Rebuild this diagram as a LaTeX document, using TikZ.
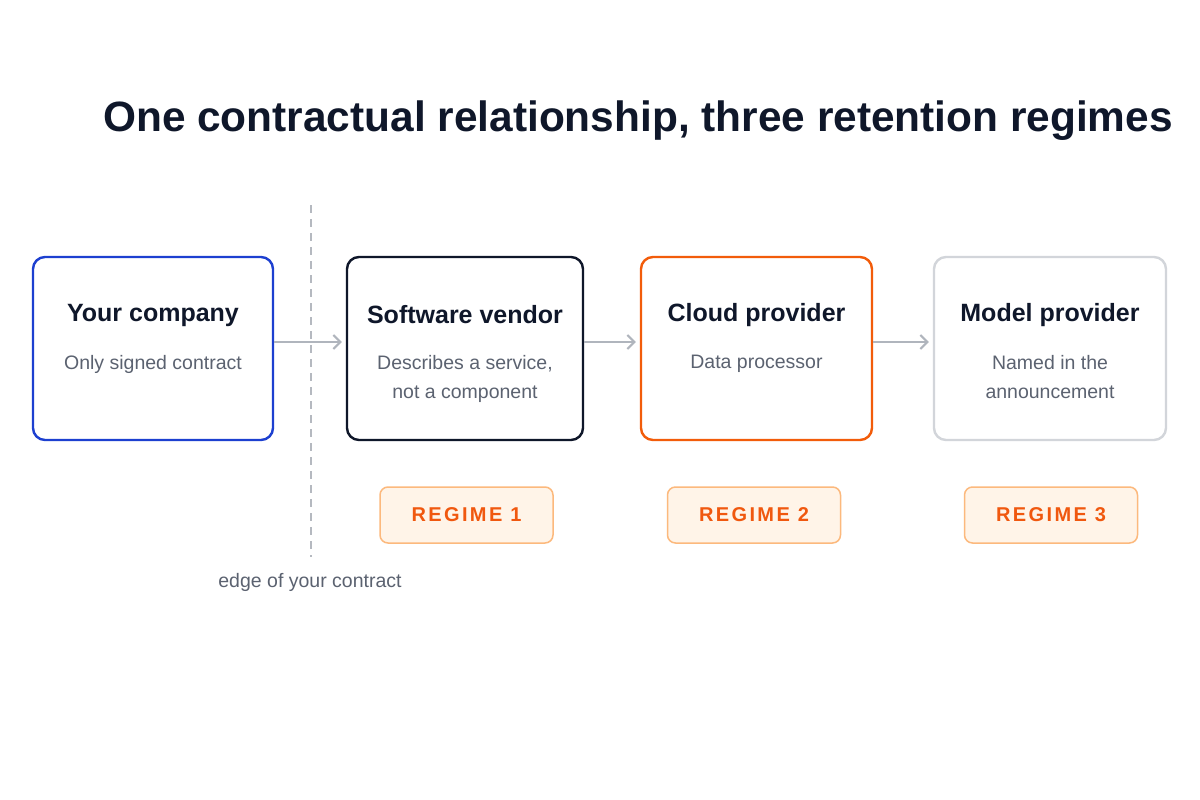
\documentclass[tikz,border=0pt]{standalone}
\usepackage{fontspec}
\setmainfont{Liberation Sans}
\usetikzlibrary{arrows.meta}
\definecolor{navy}{HTML}{0F172A}
\definecolor{subgray}{HTML}{5B6270}
\definecolor{blueb}{HTML}{1D40D0}
\definecolor{orangeb}{HTML}{F25C0A}
\definecolor{lightb}{HTML}{D2D5DA}
\definecolor{arrowgray}{HTML}{B0B5BD}
\definecolor{dashgray}{HTML}{B5B9C0}
\definecolor{badgefill}{HTML}{FFF4E8}
\definecolor{badgeline}{HTML}{FCB97D}
\definecolor{badgetext}{HTML}{F0580F}
\tikzset{
  card/.style={draw, line width=2.4pt, rounded corners=12pt, minimum width=#1, minimum height=183pt, inner sep=0pt},
  cardtitle/.style={font=\fontsize{25}{30}\selectfont\bfseries, text=navy},
  cardsub/.style={font=\fontsize{19.5}{29}\selectfont, text=subgray, align=center},
  badge/.style={draw=badgeline, fill=badgefill, line width=1.5pt, rounded corners=8pt, minimum width=173pt, minimum height=56pt, font=\fontsize{20}{24}\selectfont\bfseries\addfontfeature{LetterSpace=12}, text=badgetext},
  flow/.style={draw=arrowgray, line width=2pt, -{Straight Barb[length=7pt,width=14pt,line width=2pt]}, shorten >=4pt},
}
\begin{document}
\begin{tikzpicture}[x=1pt,y=-1pt]
\useasboundingbox[fill=white] (0,0) rectangle (1200,800);
\node[font=\fontsize{42.4}{50}\selectfont\bfseries, text=navy, anchor=base] (title) at (638,131) {One contractual relationship, three retention regimes};

\node[card=240pt, draw=blueb] (b1) at (153,348.5) {};
\node[card=236pt, draw=navy] (b2) at (465,348.5) {};
\node[card=231pt, draw=orangeb] (b3) at (756.5,348.5) {};
\node[card=232pt, draw=lightb] (b4) at (1050,348.5) {};

\node[cardtitle] (t1) at (153,315) {Your company};
\node[cardtitle] (t2) at (465,315) {Software vendor};
\node[cardtitle] (t3) at (756.5,315) {Cloud provider};
\node[cardtitle] (t4) at (1050,315) {Model provider};

\node[cardsub, anchor=north] (s1) at (153,352) {Only signed contract};
\node[cardsub, anchor=north] (s2) at (465,352) {Describes a service,\\not a component};
\node[cardsub, anchor=north] (s3) at (756.5,352) {Data processor};
\node[cardsub, anchor=north] (s4) at (1050,352) {Named in the\\announcement};

\coordinate (dtop) at (311,205);
\coordinate (dbot) at (311,557);
\draw[dashgray, line width=1.6pt, dash pattern=on 8pt off 6pt] (dtop) -- (dbot);

\draw[flow] ([yshift=6.5pt]b1.east) -- ([yshift=6.5pt]b2.west);
\draw[flow] ([yshift=6.5pt]b2.east) -- ([yshift=6.5pt]b3.west);
\draw[flow] ([yshift=6.5pt]b3.east) -- ([yshift=6.5pt]b4.west);

\node[badge] (r1) at (466.5,515) {REGIME 1};
\node[badge] (r2) at (754,515) {REGIME 2};
\node[badge] (r3) at (1051,515) {REGIME 3};

\node[font=\fontsize{19.5}{24}\selectfont, text=subgray] (edge) at (310,582) {edge of your contract};
\end{tikzpicture}
\end{document}
